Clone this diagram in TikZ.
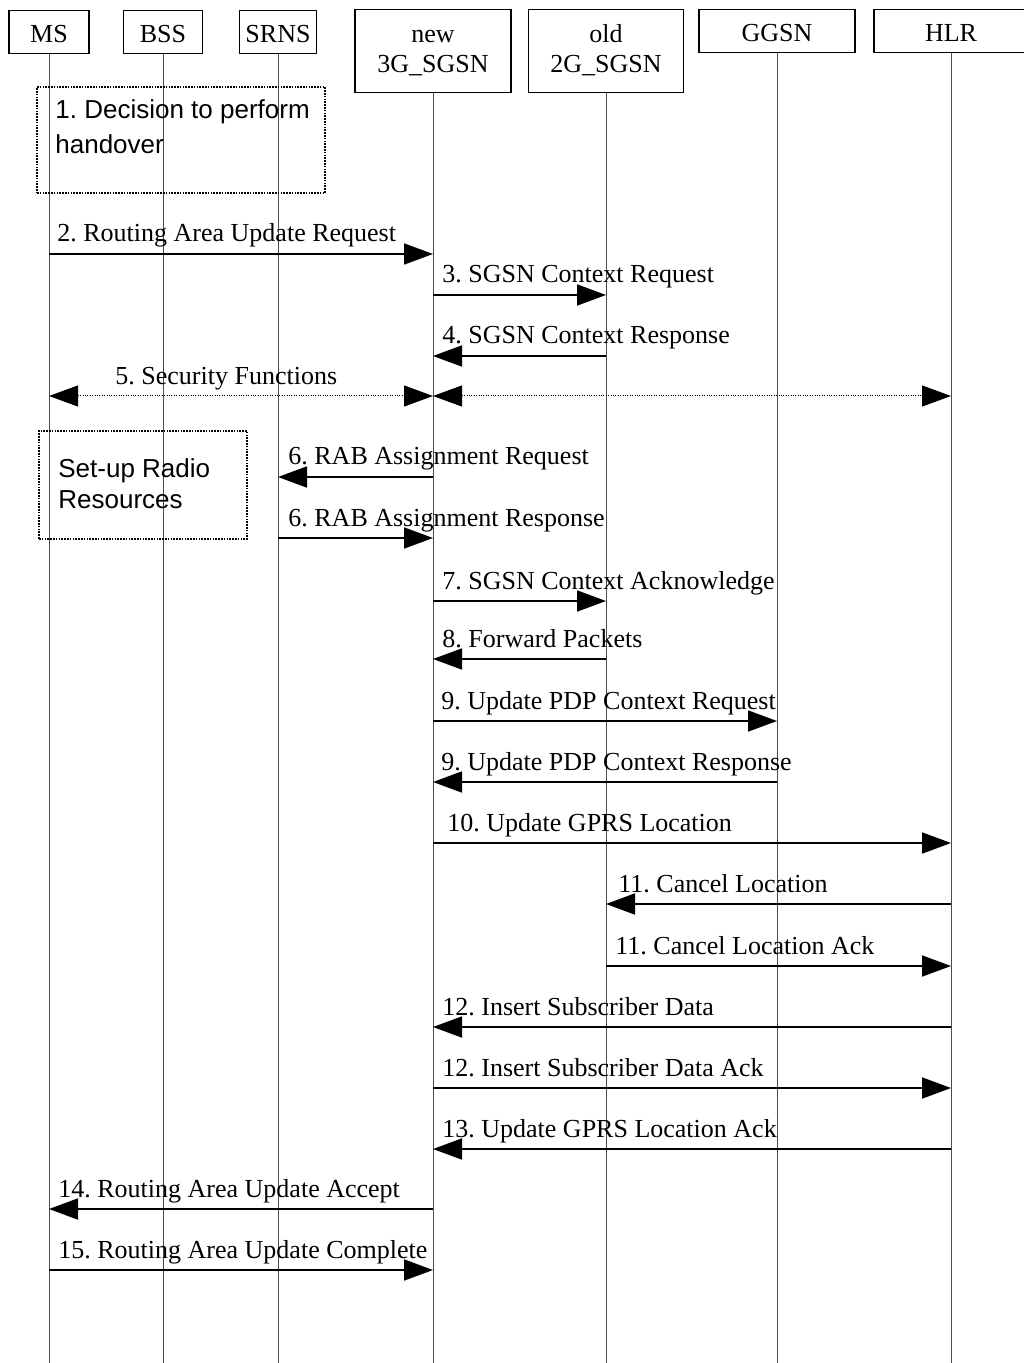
\documentclass[tikz,border=0pt]{standalone}
\usepackage{fontspec}
\setmainfont{Liberation Serif}
\newfontfamily\arialfont{Liberation Sans}
\usetikzlibrary{arrows.meta}
\frenchspacing

\begin{document}
\begin{tikzpicture}
[x=0.5pt,y=-0.5pt,
  entity/.style={draw,line width=0.75pt,inner sep=0pt,align=center,anchor=north,
    font=\fontsize{13}{15}\selectfont},%
  lifeline/.style={black!70,line width=0.5pt},%
  msg/.style={-{Triangle[length=14.5pt,width=10.5pt]},line width=0.9pt},%
  secmsg/.style={{Triangle[length=14.5pt,width=10.5pt]}-{Triangle[length=14.5pt,width=10.5pt]},
    line width=0.5pt,dash pattern=on 0.5pt off 0.7pt},%
  msglabel/.style={anchor=base west,inner sep=0pt,font=\fontsize{13}{15}\selectfont},%
  notebox/.style={draw,line width=0.9pt,dash pattern=on 0.8pt off 0.6pt,inner sep=0pt},%
  notetext/.style={anchor=north west,inner sep=0pt,align=left}]
\useasboundingbox (0,0) rectangle (1023,1363);
%% entities and lifelines
\foreach \name/\x/\y/\w/\top/\bot/\txt in {
  ms/49/10/40pt/16pt/5.5pt/MS, bss/163/10/39.5pt/16pt/5.5pt/BSS,
  srns/278/10/38.5pt/16pt/5.5pt/SRNS, new/433/9/78pt/16.5pt/10pt/{new\\3G\_SGSN},
  old/606/9/77.5pt/16.5pt/10pt/{old\\2G\_SGSN}, ggsn/777/9/78pt/16pt/5.5pt/GGSN,
  hlr/951/9/77pt/16pt/5.5pt/HLR} {
  \node (\name) at (\x,\y) [entity,minimum width=\w]
    {\rule{0pt}{\top}\txt\rule[-\bot]{0pt}{\bot}};
  \draw[lifeline] (\name.south) -- (\name.south |- 0,1363);
}
%% local procedures
\node (decision) at (181,140) [notebox,minimum width=144pt,minimum height=53pt] {};
\node (decisiontext) at (55,99) [notetext,
  font=\arialfont\fontsize{13}{17.5}\selectfont] {1. Decision to perform\\handover};
\node (radio) at (143,485) [notebox,minimum width=104pt,minimum height=54pt] {};
\node (radiotext) at (58,458) [notetext,
  font=\arialfont\fontsize{13}{15.5}\selectfont] {Set-up Radio\\Resources};
%% messages
\foreach \y/\from/\to/\lx/\txt in {
  254/ms/new/57/{2. Routing Area Update Request},
  295/new/old/442/{3. SGSN Context Request},
  356/old/new/442/{4. SGSN Context Response},
  477/new/srns/288/{6. RAB Assignment Request},
  538/srns/new/288/{6. RAB Assignment Response},
  601/new/old/442/{7. SGSN Context Acknowledge},
  659/old/new/442/{8. Forward Packets},
  721/new/ggsn/441/{9. Update PDP Context Request},
  782/ggsn/new/441/{9. Update PDP Context Response},
  843/new/hlr/447/{10. Update GPRS Location},
  904/hlr/old/618/{11. Cancel Location},
  966/old/hlr/615/{11. Cancel Location Ack},
  1027/hlr/new/442/{12. Insert Subscriber Data},
  1088/new/hlr/442/{12. Insert Subscriber Data Ack},
  1149/hlr/new/442/{13. Update GPRS Location Ack},
  1209/new/ms/58/{14. Routing Area Update Accept},
  1270/ms/new/58/{15. Routing Area Update Complete}} {
  \draw[msg] (\from |- 0,\y) -- (\to |- 0,\y);
  \node (m\y) at (\lx,{\y-12}) [msglabel] {\txt};
}
\draw[secmsg] (ms |- 0,396) -- (new |- 0,396);
\draw[secmsg] (new |- 0,396) -- (hlr |- 0,396);
\node (m396) at (115,385) [msglabel] {5. Security Functions};
\end{tikzpicture}
\end{document}
